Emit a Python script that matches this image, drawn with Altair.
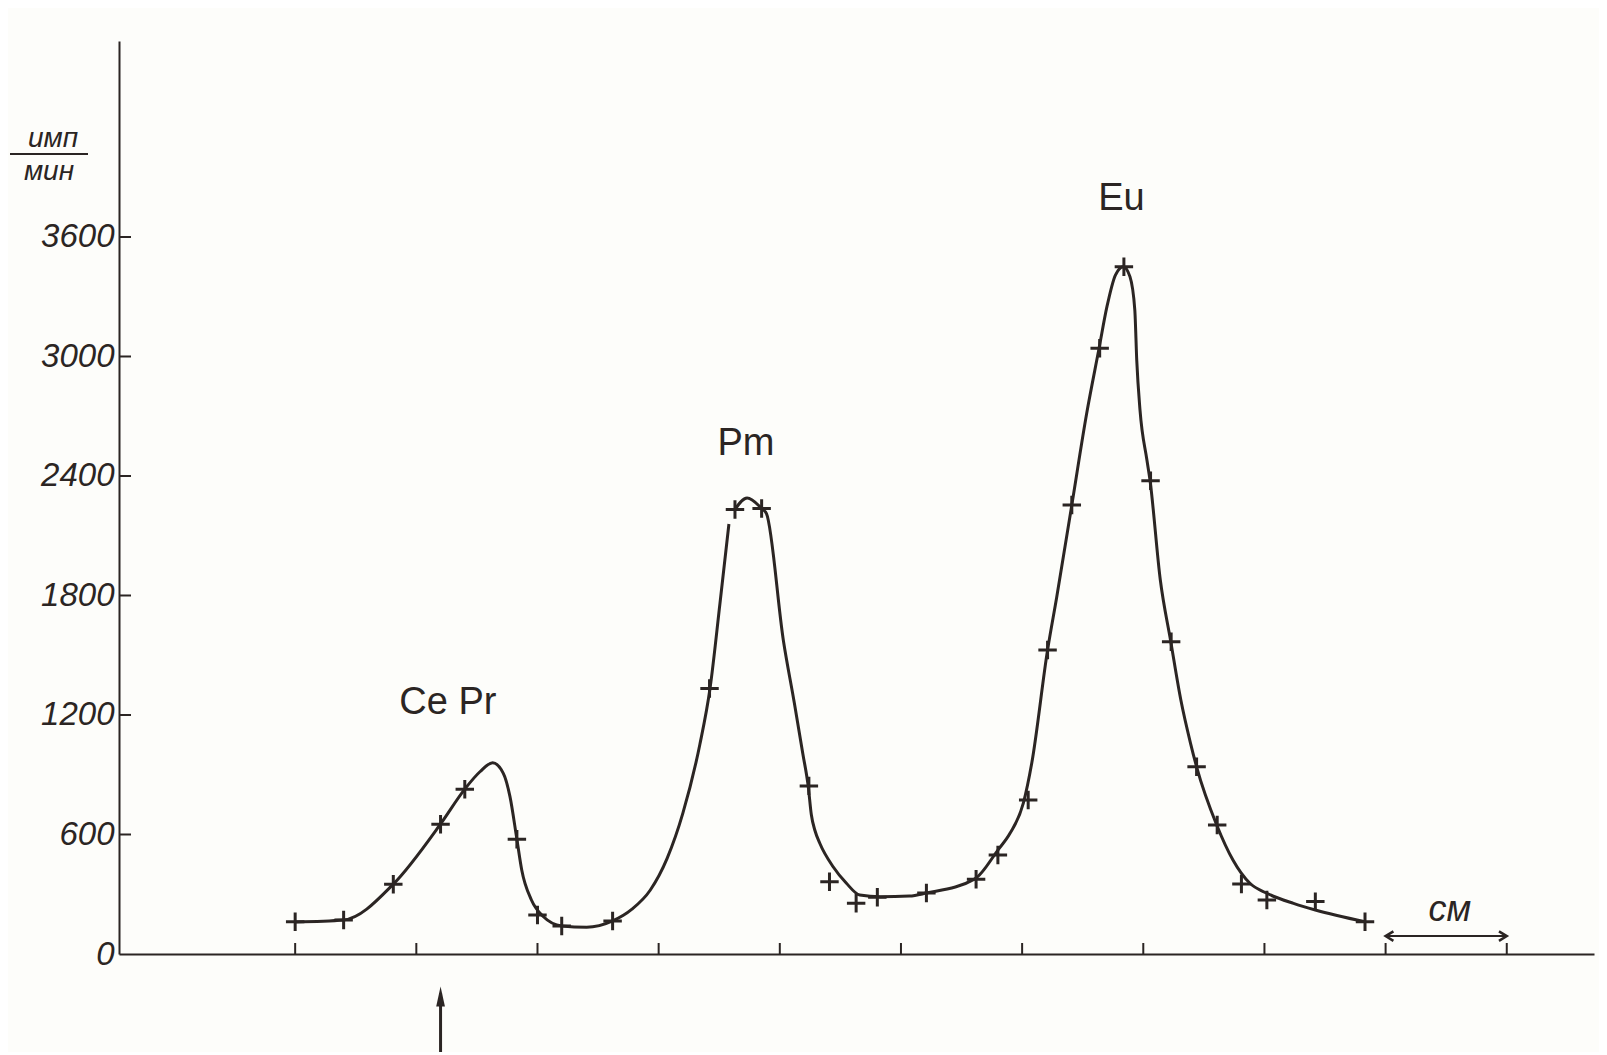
import altair as alt
import pandas as pd

# ---- measured crosses (x in cm from first tick, y in imp/min) ----
pt_x = [0.00, 0.40, 0.81, 1.20, 1.40, 1.83, 2.00, 2.20, 2.62,
        3.42, 3.63, 3.85, 4.24, 4.41, 4.63, 4.805, 5.21, 5.62, 5.80, 6.05, 6.21,
        6.41, 6.64, 6.84, 7.06, 7.23, 7.44, 7.61, 7.81, 8.02, 8.42, 8.83]
pt_y = [162, 171, 350, 651, 827, 576, 196, 141, 166,
        1333, 2232, 2237, 844, 363, 255, 285, 306, 375, 497, 773, 1526,
        2254, 3041, 3451, 2376, 1568, 940, 648, 351, 271, 263, 162]

# ---- hand-drawn curve (two strokes) ----
ca_x = [0.00, 0.40, 0.81, 1.20, 1.40, 1.525, 1.63, 1.718, 1.773, 1.83, 1.87, 1.95,
        2.05, 2.20, 2.406, 2.62, 2.78, 2.93, 3.07, 3.20, 3.34, 3.424, 3.506, 3.58]
ca_y = [161, 171, 351, 653, 828, 915, 960, 907, 790, 576, 422, 271,
        187, 141, 134, 166, 225, 320, 480, 707, 1052, 1333, 1760, 2159]
cb_x = [3.63, 3.73, 3.85, 3.89, 4.03, 4.12, 4.19, 4.235, 4.26, 4.29, 4.33, 4.44, 4.55,
        4.66, 4.83, 5.07, 5.21, 5.61, 5.80, 5.90, 6.01, 6.08, 6.21, 6.285, 6.41,
        6.533, 6.635, 6.70, 6.77, 6.835, 6.89, 6.93, 6.946, 6.973, 7.03, 7.056, 7.14,
        7.227, 7.31, 7.39, 7.44, 7.606, 7.74, 7.88, 8.02, 8.24, 8.42, 8.83]
cb_y = [2232, 2289, 2237, 2211, 1572, 1260, 1006, 840, 700, 620, 556, 438, 355,
        296, 288, 291, 306, 377, 522, 606, 757, 960, 1526, 1790, 2254,
        2715, 3041, 3250, 3409, 3451, 3401, 3234, 2982, 2731, 2480, 2376, 1880,
        1568, 1275, 1058, 940, 648, 472, 355, 305, 254, 221, 162]

# ---- annotations ----
peak_labels = ["Ce Pr", "Pm", "Eu"]
peak_lx = [1.26, 3.72, 6.82]
peak_ly = [1260, 2561, 3791]
y_ticks = [0, 600, 1200, 1800, 2400, 3000, 3600]
x_ticks = [0, 1, 2, 3, 4, 5, 6, 7, 8, 9, 10]
ytitle_top = "имп"
ytitle_bottom = "мин"
unit_label = "см"
unit_from, unit_to, unit_y = 9, 10, 90
unit_lx, unit_ly = 9.53, 221
marker_x = 1.20

ink = "#2b2523"
W, H = 1475, 913
xs = alt.Scale(domain=[-1.454, 10.72], nice=False, zero=False)
ys = alt.Scale(domain=[0, 4584], nice=False, zero=False)

curve = pd.DataFrame({"x": ca_x + cb_x, "y": ca_y + cb_y,
                      "seg": ["A"] * len(ca_x) + ["B"] * len(cb_x)})
pts = pd.DataFrame({"x": pt_x, "y": pt_y})

line = alt.Chart(curve).mark_line(interpolate="monotone", color=ink, strokeWidth=3).encode(
    x=alt.X("x:Q", scale=xs,
            axis=alt.Axis(domain=True, domainColor=ink, domainWidth=2, ticks=False,
                          labels=False, grid=False, title=None)),
    y=alt.Y("y:Q", scale=ys,
            axis=alt.Axis(values=y_ticks, format="d", domain=True, domainColor=ink,
                          domainWidth=2, ticks=False, grid=False, title=None,
                          labelFont="Liberation Sans", labelFontSize=33,
                          labelFontStyle="italic", labelColor=ink, labelPadding=5)),
    detail="seg:N",
)

cross = "M-1,0L1,0M0,-1L0,1"
points = alt.Chart(pts).mark_point(shape=cross, size=340, filled=False, stroke=ink,
                                   strokeWidth=3, opacity=1).encode(
    x=alt.X("x:Q", scale=xs), y=alt.Y("y:Q", scale=ys))

yt = alt.Chart(pd.DataFrame({"y": y_ticks[1:]})).mark_rule(color=ink, strokeWidth=2).encode(
    y=alt.Y("y:Q", scale=ys), x=alt.value(0), x2=alt.value(12))
xt = alt.Chart(pd.DataFrame({"x": x_ticks})).mark_rule(color=ink, strokeWidth=2).encode(
    x=alt.X("x:Q", scale=xs), y=alt.value(H), y2=alt.value(H - 11))

labels = alt.Chart(pd.DataFrame({"t": peak_labels, "x": peak_lx, "y": peak_ly})).mark_text(
    font="Liberation Sans", fontSize=38, color=ink, align="center", baseline="middle").encode(
    x=alt.X("x:Q", scale=xs), y=alt.Y("y:Q", scale=ys), text="t:N")

t_top = alt.Chart(pd.DataFrame({"t": [ytitle_top]})).mark_text(
    font="Liberation Sans", fontSize=28, fontStyle="italic", color=ink, align="center",
    baseline="alphabetic").encode(x=alt.value(-66), y=alt.value(106), text="t:N")
t_bot = alt.Chart(pd.DataFrame({"t": [ytitle_bottom]})).mark_text(
    font="Liberation Sans", fontSize=28, fontStyle="italic", color=ink, align="center",
    baseline="alphabetic").encode(x=alt.value(-70), y=alt.value(139), text="t:N")
bar = alt.Chart(pd.DataFrame({"a": [0]})).mark_rule(color=ink, strokeWidth=2).encode(
    x=alt.value(-109), x2=alt.value(-31), y=alt.value(113))

arrow_df = pd.DataFrame({"x": [marker_x]})
arrow = alt.Chart(arrow_df).mark_rule(color=ink, strokeWidth=3).encode(
    x=alt.X("x:Q", scale=xs), y=alt.value(952), y2=alt.value(1015))
head = alt.Chart(arrow_df).mark_point(shape="M0,-1L0.35,0.6L-0.35,0.6Z", size=625,
                                      filled=True, color=ink, opacity=1).encode(
    x=alt.X("x:Q", scale=xs), y=alt.value(958))

unit_df = pd.DataFrame({"x": [unit_from], "x2": [unit_to], "y": [unit_y]})
unit_rule = alt.Chart(unit_df).mark_rule(color=ink, strokeWidth=2).encode(
    x=alt.X("x:Q", scale=xs), x2="x2:Q", y=alt.Y("y:Q", scale=ys))
lh = alt.Chart(pd.DataFrame({"x": [unit_from], "y": [unit_y]})).mark_point(
    shape="M0.9,-0.55L0,0L0.9,0.55", size=300, filled=False, stroke=ink, strokeWidth=2.5,
    opacity=1).encode(x=alt.X("x:Q", scale=xs), y=alt.Y("y:Q", scale=ys))
rh = alt.Chart(pd.DataFrame({"x": [unit_to], "y": [unit_y]})).mark_point(
    shape="M-0.9,-0.55L0,0L-0.9,0.55", size=300, filled=False, stroke=ink, strokeWidth=2.5,
    opacity=1).encode(x=alt.X("x:Q", scale=xs), y=alt.Y("y:Q", scale=ys))
unit_text = alt.Chart(pd.DataFrame({"t": [unit_label], "x": [unit_lx], "y": [unit_ly]})).mark_text(
    font="Liberation Sans", fontSize=36, fontStyle="italic", color=ink,
    align="center", baseline="middle").encode(
    x=alt.X("x:Q", scale=xs), y=alt.Y("y:Q", scale=ys), text="t:N")

chart = alt.layer(line, points, yt, xt, labels, t_top, t_bot, bar, arrow, head,
                  unit_rule, lh, rh, unit_text).properties(
    width=W, height=H, autosize="none",
    padding={"left": 111, "top": 33, "right": 5, "bottom": 98},
    background="#fdfdfa",
).configure_view(strokeWidth=0)

chart.save("out.html", embed_options={"renderer": "svg", "actions": False})
